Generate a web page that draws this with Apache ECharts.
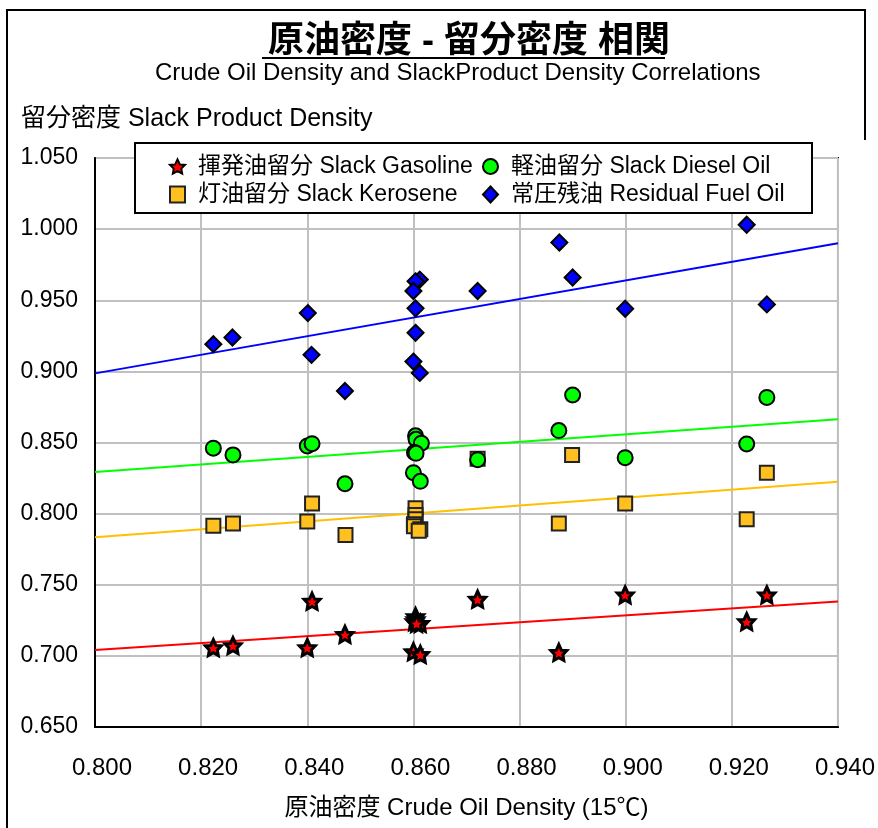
<!DOCTYPE html>
<html>
<head>
<meta charset="utf-8">
<script src="https://cdn.jsdelivr.net/npm/echarts@6/dist/echarts.min.js"></script>
<style>html,body{margin:0;padding:0;background:#fff}#c{width:878px;height:828px}</style>
</head>
<body>
<div id="c"></div>
<script>
// ---- data ----
var gasolineX = [0.8223,0.8260,0.8400,0.8409,0.8471,0.8604,0.8604,0.8602,0.8613,0.8606,0.8600,0.8613,0.8721,0.8874,0.8999,0.9228,0.9266];
var gasolineY = [0.7058,0.7072,0.7058,0.7384,0.7151,0.7276,0.7255,0.7241,0.7229,0.7229,0.7029,0.7010,0.7398,0.7024,0.7429,0.7241,0.7429];
var keroseneX = [0.8223,0.8260,0.8400,0.8409,0.8472,0.8604,0.8604,0.8604,0.8601,0.8601,0.8613,0.8610,0.8721,0.8874,0.8899,0.8999,0.9228,0.9266];
var keroseneY = [0.7914,0.7931,0.7945,0.8072,0.7850,0.8038,0.7990,0.7961,0.7925,0.7911,0.7890,0.7880,0.8385,0.7931,0.8413,0.8072,0.7961,0.8288];
var dieselX = [0.8223,0.8260,0.8400,0.8409,0.8471,0.8604,0.8605,0.8615,0.8602,0.8605,0.8600,0.8613,0.8721,0.8874,0.8900,0.8999,0.9228,0.9266];
var dieselY = [0.8460,0.8413,0.8476,0.8492,0.8210,0.8547,0.8523,0.8495,0.8429,0.8424,0.8288,0.8227,0.8379,0.8584,0.8834,0.8393,0.8490,0.8817];
var residualX = [0.8223,0.8259,0.8401,0.8408,0.8471,0.8612,0.8604,0.8600,0.8604,0.8604,0.8600,0.8612,0.8721,0.8875,0.8900,0.8999,0.9228,0.9266];
var residualY = [0.9191,0.9238,0.9410,0.9116,0.8862,0.9645,0.9633,0.9565,0.9443,0.9271,0.9069,0.8989,0.9565,0.9906,0.9660,0.9440,1.0031,0.9471];
// trend lines (ends at x = 0.800 and 0.940)
var trendX = [0.800, 0.940];
var gasolineTrend = [0.7041, 0.7382];
var keroseneTrend = [0.7834, 0.8224];
var dieselTrend = [0.8292, 0.8664];
var residualTrend = [0.8986, 0.9900];

var names = ['揮発油留分 Slack Gasoline','灯油留分 Slack Kerosene','軽油留分 Slack Diesel Oil','常圧残油 Residual Fuel Oil'];
var FONT = "'Liberation Sans','Noto Sans CJK JP',sans-serif";

function pairs(xs, ys){ return xs.map(function(x,i){ return [x, ys[i]]; }); }
var starPath = 'path://M0,-10L3.1,-3.4L9.5,-3.1L4.8,1.7L5.9,8.1L0,4.9L-5.9,8.1L-4.8,1.7L-9.5,-3.1L-3.1,-3.4Z';

function trend(ys, color){
  return {type:'line', data: pairs(trendX, ys), showSymbol:false, symbol:'none', silent:true,
    lineStyle:{color:color, width:2}, z:1, animation:false};
}

var chart = echarts.init(document.getElementById('c'), null, {renderer:'canvas'});
chart.setOption({
  animation:false,
  backgroundColor:'#fff',
  title:[
    {text:'原油密度 - 留分密度 相関', left:263, top:19, textStyle:{fontFamily:FONT, fontSize:36, fontWeight:'bold', color:'#000'}},
    {text:'Crude Oil Density and SlackProduct Density Correlations', left:150, top:56, textStyle:{fontFamily:FONT, fontSize:24, fontWeight:'normal', color:'#000'}},
    {text:'留分密度 Slack Product Density', left:16, top:102, textStyle:{fontFamily:FONT, fontSize:25, fontWeight:'normal', color:'#000'}}
  ],
  graphic:[
    {type:'line', shape:{x1:262,y1:58,x2:665,y2:58}, style:{stroke:'#000', lineWidth:2}, z:10},
    {type:'polyline', shape:{points:[[7,828],[7,10],[865,10],[865,140]]}, style:{stroke:'#000', lineWidth:2, fill:null}, z:10},
    {type:'rect', shape:{x:135,y:143,width:677,height:70}, style:{fill:'#fff', stroke:'#000', lineWidth:2}, z:5}
  ],
  grid:{left:95, right:36, top:158, bottom:101, show:true, borderColor:'#000', borderWidth:2, backgroundColor:'transparent'},
  legend:[
    {data:[names[0], names[1]], orient:'vertical', left:164, top:150, itemWidth:15, itemHeight:16, itemGap:5, z:20,
      textStyle:{fontFamily:FONT, fontSize:23, color:'#000', padding:[0,0,0,8]}},
    {data:[names[2], names[3]], orient:'vertical', left:477, top:150, itemWidth:15, itemHeight:16, itemGap:5, z:20,
      textStyle:{fontFamily:FONT, fontSize:23, color:'#000', padding:[0,0,0,8]}}
  ],
  xAxis:{type:'value', min:0.800, max:0.940, interval:0.020,
    name:'原油密度 Crude Oil Density (15℃)', nameLocation:'middle', nameGap:69,
    nameTextStyle:{fontFamily:FONT, fontSize:24, color:'#000'},
    axisLine:{show:true, onZero:false, lineStyle:{color:'#000', width:2}},
    axisTick:{show:false},
    axisLabel:{fontFamily:FONT, fontSize:24, color:'#000', margin:29, padding:[0,0,0,14],
      formatter:function(v){ return v.toFixed(3); }},
    splitLine:{show:true, lineStyle:{color:'#c0c0c0', width:2}}
  },
  yAxis:{type:'value', min:0.650, max:1.050, interval:0.050,
    axisLine:{show:true, onZero:false, lineStyle:{color:'#000', width:2}},
    axisTick:{show:false},
    axisLabel:{fontFamily:FONT, fontSize:23, color:'#000', margin:17,
      formatter:function(v){ return v.toFixed(3); }},
    splitLine:{show:true, lineStyle:{color:'#c0c0c0', width:2}}
  },
  series:[
    trend(gasolineTrend, '#ff0000'),
    trend(keroseneTrend, '#ffc000'),
    trend(dieselTrend, '#00ff00'),
    trend(residualTrend, '#0000ff'),
    {name:names[0], type:'scatter', data:pairs(gasolineX, gasolineY), symbol:starPath, symbolSize:16, z:3,
      itemStyle:{color:'#ff0000', borderColor:'#000', borderWidth:3, opacity:1}},
    {name:names[1], type:'scatter', data:pairs(keroseneX, keroseneY), symbol:'rect', symbolSize:14, z:3,
      itemStyle:{color:'#ffc020', borderColor:'#222', borderWidth:2, opacity:1}},
    {name:names[2], type:'scatter', data:pairs(dieselX, dieselY), symbol:'circle', symbolSize:15, z:3,
      itemStyle:{color:'#00ff00', borderColor:'#000', borderWidth:2, opacity:1}},
    {name:names[3], type:'scatter', data:pairs(residualX, residualY), symbol:'diamond', symbolSize:16, z:3,
      itemStyle:{color:'#0000ff', borderColor:'#000', borderWidth:2, opacity:1}}
  ]
});
</script>
</body>
</html>
